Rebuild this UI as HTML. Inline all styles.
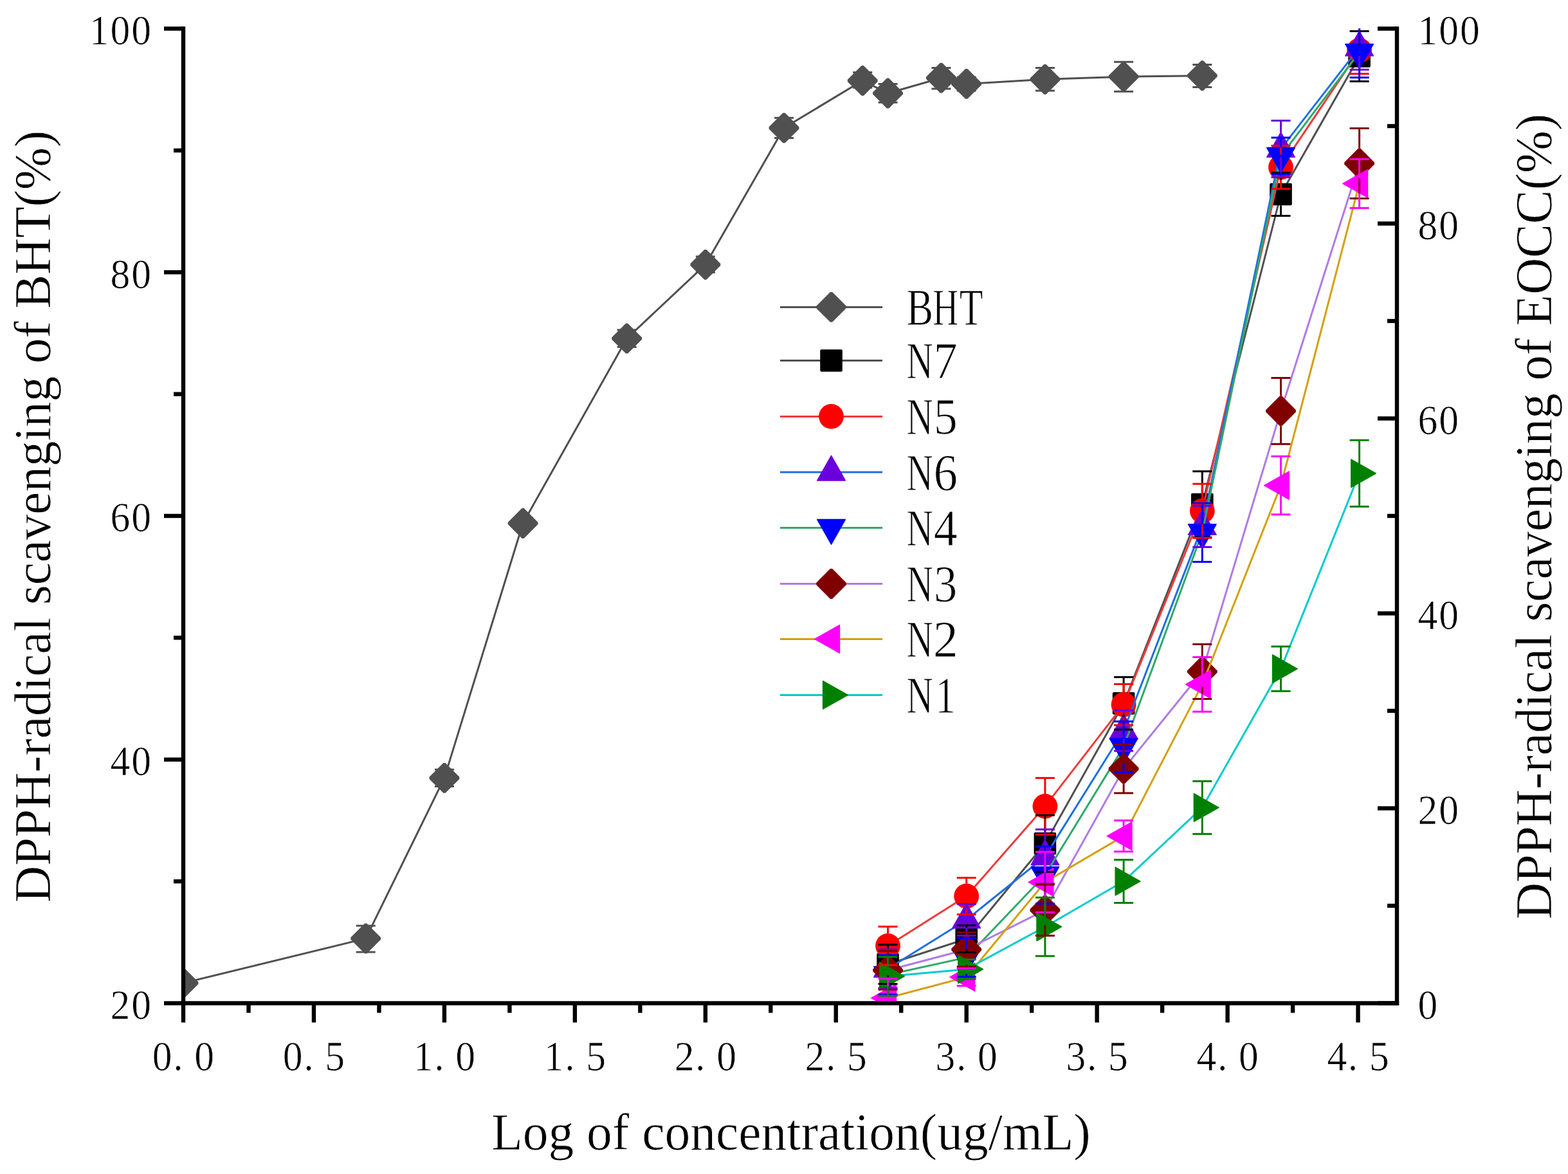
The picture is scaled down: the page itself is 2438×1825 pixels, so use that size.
<!DOCTYPE html>
<html><head><meta charset="utf-8"><title>DPPH chart</title>
<style>html,body{margin:0;padding:0;background:#fff;}svg{display:block;}</style>
</head><body>
<svg width="2438" height="1825" viewBox="0 0 2438 1825">
<rect width="2438" height="1825" fill="#fff"/>
<defs><clipPath id="pc"><rect x="285.0" y="44.5" width="1887.0" height="1515.0"/></clipPath></defs>
<g clip-path="url(#pc)">
<polyline points="285.0,1528.2 568.7,1458.9 690.9,1209.4 813.1,813.5 974.6,526.2 1096.8,411.4 1219.0,198.8 1341.2,125.3 1380.5,145.0 1463.4,121.2 1502.7,130.4 1624.9,123.3 1747.1,119.2 1869.3,117.7" fill="none" stroke="#505050" stroke-width="3" stroke-linejoin="round"/>
<polygon points="283.4,1504.8 286.6,1504.8 308.4,1526.6 308.4,1529.8 286.6,1551.6 283.4,1551.6 261.6,1529.8 261.6,1526.6" fill="#505050"/>
<polygon points="567.1,1435.5 570.3,1435.5 592.1,1457.3 592.1,1460.5 570.3,1482.3 567.1,1482.3 545.3,1460.5 545.3,1457.3" fill="#505050"/>
<polygon points="689.3,1186.0 692.5,1186.0 714.3,1207.8 714.3,1211.0 692.5,1232.8 689.3,1232.8 667.5,1211.0 667.5,1207.8" fill="#505050"/>
<polygon points="811.5,790.1 814.7,790.1 836.5,811.9 836.5,815.1 814.7,836.9 811.5,836.9 789.7,815.1 789.7,811.9" fill="#505050"/>
<polygon points="973.0,502.8 976.2,502.8 998.0,524.6 998.0,527.8 976.2,549.6 973.0,549.6 951.2,527.8 951.2,524.6" fill="#505050"/>
<polygon points="1095.2,388.0 1098.4,388.0 1120.2,409.8 1120.2,413.0 1098.4,434.8 1095.2,434.8 1073.4,413.0 1073.4,409.8" fill="#505050"/>
<polygon points="1217.4,175.4 1220.6,175.4 1242.4,197.2 1242.4,200.4 1220.6,222.2 1217.4,222.2 1195.6,200.4 1195.6,197.2" fill="#505050"/>
<polygon points="1339.6,101.9 1342.8,101.9 1364.6,123.7 1364.6,126.9 1342.8,148.7 1339.6,148.7 1317.8,126.9 1317.8,123.7" fill="#505050"/>
<polygon points="1378.9,121.6 1382.1,121.6 1403.9,143.4 1403.9,146.6 1382.1,168.4 1378.9,168.4 1357.1,146.6 1357.1,143.4" fill="#505050"/>
<polygon points="1461.8,97.8 1465.0,97.8 1486.8,119.6 1486.8,122.8 1465.0,144.6 1461.8,144.6 1440.0,122.8 1440.0,119.6" fill="#505050"/>
<polygon points="1501.1,107.0 1504.3,107.0 1526.1,128.8 1526.1,132.0 1504.3,153.8 1501.1,153.8 1479.3,132.0 1479.3,128.8" fill="#505050"/>
<polygon points="1623.3,99.9 1626.5,99.9 1648.3,121.7 1648.3,124.9 1626.5,146.7 1623.3,146.7 1601.5,124.9 1601.5,121.7" fill="#505050"/>
<polygon points="1745.5,95.8 1748.7,95.8 1770.5,117.6 1770.5,120.8 1748.7,142.6 1745.5,142.6 1723.7,120.8 1723.7,117.6" fill="#505050"/>
<polygon points="1867.7,94.3 1870.9,94.3 1892.7,116.1 1892.7,119.3 1870.9,141.1 1867.7,141.1 1845.9,119.3 1845.9,116.1" fill="#505050"/>
<line x1="553.7" y1="1439.1" x2="583.7" y2="1439.1" stroke="#505050" stroke-width="3.0"/>
<line x1="553.7" y1="1480.0" x2="583.7" y2="1480.0" stroke="#505050" stroke-width="3.0"/>
<line x1="675.9" y1="1196.3" x2="705.9" y2="1196.3" stroke="#505050" stroke-width="3.0"/>
<line x1="675.9" y1="1222.5" x2="705.9" y2="1222.5" stroke="#505050" stroke-width="3.0"/>
<line x1="798.1" y1="805.0" x2="828.1" y2="805.0" stroke="#505050" stroke-width="3.0"/>
<line x1="798.1" y1="822.0" x2="828.1" y2="822.0" stroke="#505050" stroke-width="3.0"/>
<line x1="959.6" y1="512.9" x2="989.6" y2="512.9" stroke="#505050" stroke-width="3.0"/>
<line x1="959.6" y1="539.4" x2="989.6" y2="539.4" stroke="#505050" stroke-width="3.0"/>
<line x1="1081.8" y1="398.8" x2="1111.8" y2="398.8" stroke="#505050" stroke-width="3.0"/>
<line x1="1081.8" y1="423.5" x2="1111.8" y2="423.5" stroke="#505050" stroke-width="3.0"/>
<line x1="1204.0" y1="183.2" x2="1234.0" y2="183.2" stroke="#505050" stroke-width="3.0"/>
<line x1="1204.0" y1="214.4" x2="1234.0" y2="214.4" stroke="#505050" stroke-width="3.0"/>
<line x1="1326.2" y1="112.6" x2="1356.2" y2="112.6" stroke="#505050" stroke-width="3.0"/>
<line x1="1326.2" y1="136.3" x2="1356.2" y2="136.3" stroke="#505050" stroke-width="3.0"/>
<line x1="1365.5" y1="130.5" x2="1395.5" y2="130.5" stroke="#505050" stroke-width="3.0"/>
<line x1="1365.5" y1="159.3" x2="1395.5" y2="159.3" stroke="#505050" stroke-width="3.0"/>
<line x1="1448.4" y1="105.4" x2="1478.4" y2="105.4" stroke="#505050" stroke-width="3.0"/>
<line x1="1448.4" y1="138.0" x2="1478.4" y2="138.0" stroke="#505050" stroke-width="3.0"/>
<line x1="1487.7" y1="120.0" x2="1517.7" y2="120.0" stroke="#505050" stroke-width="3.0"/>
<line x1="1487.7" y1="141.0" x2="1517.7" y2="141.0" stroke="#505050" stroke-width="3.0"/>
<line x1="1609.9" y1="105.4" x2="1639.9" y2="105.4" stroke="#505050" stroke-width="3.0"/>
<line x1="1609.9" y1="140.9" x2="1639.9" y2="140.9" stroke="#505050" stroke-width="3.0"/>
<line x1="1732.1" y1="96.3" x2="1762.1" y2="96.3" stroke="#505050" stroke-width="3.0"/>
<line x1="1732.1" y1="142.3" x2="1762.1" y2="142.3" stroke="#505050" stroke-width="3.0"/>
<line x1="1854.3" y1="100.4" x2="1884.3" y2="100.4" stroke="#505050" stroke-width="3.0"/>
<line x1="1854.3" y1="135.4" x2="1884.3" y2="135.4" stroke="#505050" stroke-width="3.0"/>
<polyline points="1380.5,1499.0 1502.7,1459.5 1624.9,1311.3 1747.1,1093.4 1869.3,784.0 1991.5,302.0 2113.6,87.5" fill="none" stroke="#505050" stroke-width="3" stroke-linejoin="round"/>
<rect x="1363.2" y="1481.7" width="34.6" height="34.6" rx="2" fill="#000000"/>
<rect x="1485.4" y="1442.2" width="34.6" height="34.6" rx="2" fill="#000000"/>
<rect x="1607.6" y="1294.0" width="34.6" height="34.6" rx="2" fill="#000000"/>
<rect x="1729.8" y="1076.1" width="34.6" height="34.6" rx="2" fill="#000000"/>
<rect x="1852.0" y="766.7" width="34.6" height="34.6" rx="2" fill="#000000"/>
<rect x="1974.2" y="284.7" width="34.6" height="34.6" rx="2" fill="#000000"/>
<rect x="2096.3" y="70.2" width="34.6" height="34.6" rx="2" fill="#000000"/>
<polyline points="1380.5,1470.3 1502.7,1393.0 1624.9,1253.4 1747.1,1095.4 1869.3,794.2 1991.5,260.0 2113.6,78.3" fill="none" stroke="#EE3B3B" stroke-width="3" stroke-linejoin="round"/>
<circle cx="1380.5" cy="1470.3" r="19.4" fill="#FF0000"/>
<circle cx="1502.7" cy="1393.0" r="19.4" fill="#FF0000"/>
<circle cx="1624.9" cy="1253.4" r="19.4" fill="#FF0000"/>
<circle cx="1747.1" cy="1095.4" r="19.4" fill="#FF0000"/>
<circle cx="1869.3" cy="794.2" r="19.4" fill="#FF0000"/>
<circle cx="1991.5" cy="260.0" r="19.4" fill="#FF0000"/>
<circle cx="2113.6" cy="78.3" r="19.4" fill="#FF0000"/>
<polyline points="1380.5,1506.0 1502.7,1429.9 1624.9,1331.6 1747.1,1135.8 1869.3,818.4 1991.5,231.4 2113.6,73.9" fill="none" stroke="#1C6FE3" stroke-width="3" stroke-linejoin="round"/>
<polygon points="1380.5,1480.3 1402.3,1518.9 1358.7,1518.9" fill="#6A00DC" stroke="#6A00DC" stroke-width="1.5" stroke-linejoin="round"/>
<polygon points="1502.7,1404.2 1524.5,1442.8 1480.9,1442.8" fill="#6A00DC" stroke="#6A00DC" stroke-width="1.5" stroke-linejoin="round"/>
<polygon points="1624.9,1305.9 1646.7,1344.5 1603.1,1344.5" fill="#6A00DC" stroke="#6A00DC" stroke-width="1.5" stroke-linejoin="round"/>
<polygon points="1747.1,1110.1 1768.9,1148.7 1725.3,1148.7" fill="#6A00DC" stroke="#6A00DC" stroke-width="1.5" stroke-linejoin="round"/>
<polygon points="1869.3,792.7 1891.1,831.3 1847.5,831.3" fill="#6A00DC" stroke="#6A00DC" stroke-width="1.5" stroke-linejoin="round"/>
<polygon points="1991.5,205.7 2013.3,244.3 1969.7,244.3" fill="#6A00DC" stroke="#6A00DC" stroke-width="1.5" stroke-linejoin="round"/>
<polygon points="2113.6,48.2 2135.4,86.8 2091.8,86.8" fill="#6A00DC" stroke="#6A00DC" stroke-width="1.5" stroke-linejoin="round"/>
<polyline points="1380.5,1515.3 1502.7,1488.4 1624.9,1360.3 1747.1,1160.9 1869.3,827.8 1991.5,242.5 2113.6,81.4" fill="none" stroke="#2EAA6A" stroke-width="3" stroke-linejoin="round"/>
<polygon points="1380.5,1541.0 1402.3,1502.4 1358.7,1502.4" fill="#0000FF" stroke="#0000FF" stroke-width="1.5" stroke-linejoin="round"/>
<polygon points="1502.7,1514.1 1524.5,1475.5 1480.9,1475.5" fill="#0000FF" stroke="#0000FF" stroke-width="1.5" stroke-linejoin="round"/>
<polygon points="1624.9,1386.0 1646.7,1347.4 1603.1,1347.4" fill="#0000FF" stroke="#0000FF" stroke-width="1.5" stroke-linejoin="round"/>
<polygon points="1747.1,1186.6 1768.9,1148.0 1725.3,1148.0" fill="#0000FF" stroke="#0000FF" stroke-width="1.5" stroke-linejoin="round"/>
<polygon points="1869.3,853.5 1891.1,814.9 1847.5,814.9" fill="#0000FF" stroke="#0000FF" stroke-width="1.5" stroke-linejoin="round"/>
<polygon points="1991.5,268.2 2013.3,229.6 1969.7,229.6" fill="#0000FF" stroke="#0000FF" stroke-width="1.5" stroke-linejoin="round"/>
<polygon points="2113.6,107.1 2135.4,68.5 2091.8,68.5" fill="#0000FF" stroke="#0000FF" stroke-width="1.5" stroke-linejoin="round"/>
<polyline points="1380.5,1508.3 1502.7,1476.0 1624.9,1414.8 1747.1,1195.1 1869.3,1044.0 1991.5,638.9 2113.6,254.0" fill="none" stroke="#B07AE6" stroke-width="3" stroke-linejoin="round"/>
<polygon points="1378.9,1484.9 1382.1,1484.9 1403.9,1506.7 1403.9,1509.9 1382.1,1531.7 1378.9,1531.7 1357.1,1509.9 1357.1,1506.7" fill="#800000"/>
<polygon points="1501.1,1452.6 1504.3,1452.6 1526.1,1474.4 1526.1,1477.6 1504.3,1499.4 1501.1,1499.4 1479.3,1477.6 1479.3,1474.4" fill="#800000"/>
<polygon points="1623.3,1391.4 1626.5,1391.4 1648.3,1413.2 1648.3,1416.4 1626.5,1438.2 1623.3,1438.2 1601.5,1416.4 1601.5,1413.2" fill="#800000"/>
<polygon points="1745.5,1171.7 1748.7,1171.7 1770.5,1193.5 1770.5,1196.7 1748.7,1218.5 1745.5,1218.5 1723.7,1196.7 1723.7,1193.5" fill="#800000"/>
<polygon points="1867.7,1020.6 1870.9,1020.6 1892.7,1042.4 1892.7,1045.6 1870.9,1067.4 1867.7,1067.4 1845.9,1045.6 1845.9,1042.4" fill="#800000"/>
<polygon points="1989.9,615.5 1993.1,615.5 2014.9,637.3 2014.9,640.5 1993.1,662.3 1989.9,662.3 1968.1,640.5 1968.1,637.3" fill="#800000"/>
<polygon points="2112.0,230.6 2115.2,230.6 2137.0,252.4 2137.0,255.6 2115.2,277.4 2112.0,277.4 2090.2,255.6 2090.2,252.4" fill="#800000"/>
<polyline points="1380.5,1551.3 1502.7,1518.9 1624.9,1371.3 1747.1,1299.6 1869.3,1063.9 1991.5,754.6 2113.6,285.4" fill="none" stroke="#D4A00C" stroke-width="3" stroke-linejoin="round"/>
<polygon points="1354.8,1551.3 1393.4,1529.5 1393.4,1573.1" fill="#FF00FF" stroke="#FF00FF" stroke-width="1.5" stroke-linejoin="round"/>
<polygon points="1477.0,1518.9 1515.6,1497.1 1515.6,1540.7" fill="#FF00FF" stroke="#FF00FF" stroke-width="1.5" stroke-linejoin="round"/>
<polygon points="1599.2,1371.3 1637.8,1349.5 1637.8,1393.1" fill="#FF00FF" stroke="#FF00FF" stroke-width="1.5" stroke-linejoin="round"/>
<polygon points="1721.3,1299.6 1759.9,1277.8 1759.9,1321.4" fill="#FF00FF" stroke="#FF00FF" stroke-width="1.5" stroke-linejoin="round"/>
<polygon points="1843.5,1063.9 1882.1,1042.1 1882.1,1085.7" fill="#FF00FF" stroke="#FF00FF" stroke-width="1.5" stroke-linejoin="round"/>
<polygon points="1965.7,754.6 2004.3,732.8 2004.3,776.4" fill="#FF00FF" stroke="#FF00FF" stroke-width="1.5" stroke-linejoin="round"/>
<polygon points="2087.9,285.4 2126.5,263.6 2126.5,307.2" fill="#FF00FF" stroke="#FF00FF" stroke-width="1.5" stroke-linejoin="round"/>
<polyline points="1380.5,1517.7 1502.7,1506.7 1624.9,1440.7 1747.1,1370.0 1869.3,1255.4 1991.5,1039.7 2113.6,735.9" fill="none" stroke="#00CCCC" stroke-width="3" stroke-linejoin="round"/>
<polygon points="1406.2,1517.7 1367.6,1495.9 1367.6,1539.5" fill="#008000" stroke="#008000" stroke-width="1.5" stroke-linejoin="round"/>
<polygon points="1528.4,1506.7 1489.8,1484.9 1489.8,1528.5" fill="#008000" stroke="#008000" stroke-width="1.5" stroke-linejoin="round"/>
<polygon points="1650.6,1440.7 1612.0,1418.9 1612.0,1462.5" fill="#008000" stroke="#008000" stroke-width="1.5" stroke-linejoin="round"/>
<polygon points="1772.8,1370.0 1734.2,1348.2 1734.2,1391.8" fill="#008000" stroke="#008000" stroke-width="1.5" stroke-linejoin="round"/>
<polygon points="1895.0,1255.4 1856.4,1233.6 1856.4,1277.2" fill="#008000" stroke="#008000" stroke-width="1.5" stroke-linejoin="round"/>
<polygon points="2017.2,1039.7 1978.6,1017.9 1978.6,1061.5" fill="#008000" stroke="#008000" stroke-width="1.5" stroke-linejoin="round"/>
<polygon points="2139.4,735.9 2100.8,714.1 2100.8,757.7" fill="#008000" stroke="#008000" stroke-width="1.5" stroke-linejoin="round"/>
<line x1="1365.5" y1="1468.5" x2="1395.5" y2="1468.5" stroke="#000000" stroke-width="3.0"/>
<line x1="1365.5" y1="1529.5" x2="1395.5" y2="1529.5" stroke="#000000" stroke-width="3.0"/>
<line x1="1380.5" y1="1468.5" x2="1380.5" y2="1481.7" stroke="#000000" stroke-width="3.0"/>
<line x1="1380.5" y1="1516.3" x2="1380.5" y2="1529.5" stroke="#000000" stroke-width="3.0"/>
<line x1="1487.7" y1="1438.5" x2="1517.7" y2="1438.5" stroke="#000000" stroke-width="3.0"/>
<line x1="1487.7" y1="1480.5" x2="1517.7" y2="1480.5" stroke="#000000" stroke-width="3.0"/>
<line x1="1502.7" y1="1438.5" x2="1502.7" y2="1442.2" stroke="#000000" stroke-width="3.0"/>
<line x1="1502.7" y1="1476.8" x2="1502.7" y2="1480.5" stroke="#000000" stroke-width="3.0"/>
<line x1="1609.9" y1="1267.3" x2="1639.9" y2="1267.3" stroke="#000000" stroke-width="3.0"/>
<line x1="1609.9" y1="1355.3" x2="1639.9" y2="1355.3" stroke="#000000" stroke-width="3.0"/>
<line x1="1624.9" y1="1267.3" x2="1624.9" y2="1294.0" stroke="#000000" stroke-width="3.0"/>
<line x1="1624.9" y1="1328.6" x2="1624.9" y2="1355.3" stroke="#000000" stroke-width="3.0"/>
<line x1="1732.1" y1="1052.6" x2="1762.1" y2="1052.6" stroke="#000000" stroke-width="3.0"/>
<line x1="1732.1" y1="1134.2" x2="1762.1" y2="1134.2" stroke="#000000" stroke-width="3.0"/>
<line x1="1747.1" y1="1052.6" x2="1747.1" y2="1076.1" stroke="#000000" stroke-width="3.0"/>
<line x1="1747.1" y1="1110.7" x2="1747.1" y2="1134.2" stroke="#000000" stroke-width="3.0"/>
<line x1="1854.3" y1="732.7" x2="1884.3" y2="732.7" stroke="#000000" stroke-width="3.0"/>
<line x1="1854.3" y1="835.3" x2="1884.3" y2="835.3" stroke="#000000" stroke-width="3.0"/>
<line x1="1869.3" y1="732.7" x2="1869.3" y2="766.7" stroke="#000000" stroke-width="3.0"/>
<line x1="1869.3" y1="801.3" x2="1869.3" y2="835.3" stroke="#000000" stroke-width="3.0"/>
<line x1="1976.5" y1="268.5" x2="2006.5" y2="268.5" stroke="#000000" stroke-width="3.0"/>
<line x1="1976.5" y1="335.5" x2="2006.5" y2="335.5" stroke="#000000" stroke-width="3.0"/>
<line x1="1991.5" y1="268.5" x2="1991.5" y2="284.7" stroke="#000000" stroke-width="3.0"/>
<line x1="1991.5" y1="319.3" x2="1991.5" y2="335.5" stroke="#000000" stroke-width="3.0"/>
<line x1="2098.6" y1="48.5" x2="2128.6" y2="48.5" stroke="#000000" stroke-width="3.0"/>
<line x1="2098.6" y1="126.5" x2="2128.6" y2="126.5" stroke="#000000" stroke-width="3.0"/>
<line x1="2113.6" y1="48.5" x2="2113.6" y2="70.2" stroke="#000000" stroke-width="3.0"/>
<line x1="2113.6" y1="104.8" x2="2113.6" y2="126.5" stroke="#000000" stroke-width="3.0"/>
<line x1="1365.5" y1="1440.4" x2="1395.5" y2="1440.4" stroke="#FF0000" stroke-width="3.0"/>
<line x1="1365.5" y1="1500.2" x2="1395.5" y2="1500.2" stroke="#FF0000" stroke-width="3.0"/>
<line x1="1380.5" y1="1440.4" x2="1380.5" y2="1450.9" stroke="#FF0000" stroke-width="3.0"/>
<line x1="1380.5" y1="1489.7" x2="1380.5" y2="1500.2" stroke="#FF0000" stroke-width="3.0"/>
<line x1="1487.7" y1="1364.5" x2="1517.7" y2="1364.5" stroke="#FF0000" stroke-width="3.0"/>
<line x1="1487.7" y1="1421.5" x2="1517.7" y2="1421.5" stroke="#FF0000" stroke-width="3.0"/>
<line x1="1502.7" y1="1364.5" x2="1502.7" y2="1373.6" stroke="#FF0000" stroke-width="3.0"/>
<line x1="1502.7" y1="1412.4" x2="1502.7" y2="1421.5" stroke="#FF0000" stroke-width="3.0"/>
<line x1="1609.9" y1="1209.4" x2="1639.9" y2="1209.4" stroke="#FF0000" stroke-width="3.0"/>
<line x1="1609.9" y1="1297.4" x2="1639.9" y2="1297.4" stroke="#FF0000" stroke-width="3.0"/>
<line x1="1624.9" y1="1209.4" x2="1624.9" y2="1234.0" stroke="#FF0000" stroke-width="3.0"/>
<line x1="1624.9" y1="1272.8" x2="1624.9" y2="1297.4" stroke="#FF0000" stroke-width="3.0"/>
<line x1="1732.1" y1="1063.5" x2="1762.1" y2="1063.5" stroke="#FF0000" stroke-width="3.0"/>
<line x1="1732.1" y1="1127.3" x2="1762.1" y2="1127.3" stroke="#FF0000" stroke-width="3.0"/>
<line x1="1747.1" y1="1063.5" x2="1747.1" y2="1076.0" stroke="#FF0000" stroke-width="3.0"/>
<line x1="1747.1" y1="1114.8" x2="1747.1" y2="1127.3" stroke="#FF0000" stroke-width="3.0"/>
<line x1="1854.3" y1="752.2" x2="1884.3" y2="752.2" stroke="#FF0000" stroke-width="3.0"/>
<line x1="1854.3" y1="836.2" x2="1884.3" y2="836.2" stroke="#FF0000" stroke-width="3.0"/>
<line x1="1869.3" y1="752.2" x2="1869.3" y2="774.8" stroke="#FF0000" stroke-width="3.0"/>
<line x1="1869.3" y1="813.6" x2="1869.3" y2="836.2" stroke="#FF0000" stroke-width="3.0"/>
<line x1="1976.5" y1="226.5" x2="2006.5" y2="226.5" stroke="#FF0000" stroke-width="3.0"/>
<line x1="1976.5" y1="293.5" x2="2006.5" y2="293.5" stroke="#FF0000" stroke-width="3.0"/>
<line x1="1991.5" y1="226.5" x2="1991.5" y2="240.6" stroke="#FF0000" stroke-width="3.0"/>
<line x1="1991.5" y1="279.4" x2="1991.5" y2="293.5" stroke="#FF0000" stroke-width="3.0"/>
<line x1="2098.6" y1="41.8" x2="2128.6" y2="41.8" stroke="#FF0000" stroke-width="3.0"/>
<line x1="2098.6" y1="114.8" x2="2128.6" y2="114.8" stroke="#FF0000" stroke-width="3.0"/>
<line x1="2113.6" y1="41.8" x2="2113.6" y2="58.9" stroke="#FF0000" stroke-width="3.0"/>
<line x1="2113.6" y1="97.7" x2="2113.6" y2="114.8" stroke="#FF0000" stroke-width="3.0"/>
<line x1="1365.5" y1="1475.9" x2="1395.5" y2="1475.9" stroke="#6A00DC" stroke-width="3.0"/>
<line x1="1365.5" y1="1536.1" x2="1395.5" y2="1536.1" stroke="#6A00DC" stroke-width="3.0"/>
<line x1="1380.5" y1="1475.9" x2="1380.5" y2="1480.3" stroke="#6A00DC" stroke-width="3.0"/>
<line x1="1380.5" y1="1518.9" x2="1380.5" y2="1536.1" stroke="#6A00DC" stroke-width="3.0"/>
<line x1="1487.7" y1="1405.4" x2="1517.7" y2="1405.4" stroke="#6A00DC" stroke-width="3.0"/>
<line x1="1487.7" y1="1454.4" x2="1517.7" y2="1454.4" stroke="#6A00DC" stroke-width="3.0"/>
<line x1="1502.7" y1="1442.8" x2="1502.7" y2="1454.4" stroke="#6A00DC" stroke-width="3.0"/>
<line x1="1609.9" y1="1289.3" x2="1639.9" y2="1289.3" stroke="#6A00DC" stroke-width="3.0"/>
<line x1="1609.9" y1="1373.9" x2="1639.9" y2="1373.9" stroke="#6A00DC" stroke-width="3.0"/>
<line x1="1624.9" y1="1289.3" x2="1624.9" y2="1305.9" stroke="#6A00DC" stroke-width="3.0"/>
<line x1="1624.9" y1="1344.5" x2="1624.9" y2="1373.9" stroke="#6A00DC" stroke-width="3.0"/>
<line x1="1732.1" y1="1104.3" x2="1762.1" y2="1104.3" stroke="#6A00DC" stroke-width="3.0"/>
<line x1="1732.1" y1="1167.3" x2="1762.1" y2="1167.3" stroke="#6A00DC" stroke-width="3.0"/>
<line x1="1747.1" y1="1104.3" x2="1747.1" y2="1110.1" stroke="#6A00DC" stroke-width="3.0"/>
<line x1="1747.1" y1="1148.7" x2="1747.1" y2="1167.3" stroke="#6A00DC" stroke-width="3.0"/>
<line x1="1854.3" y1="786.4" x2="1884.3" y2="786.4" stroke="#6A00DC" stroke-width="3.0"/>
<line x1="1854.3" y1="850.4" x2="1884.3" y2="850.4" stroke="#6A00DC" stroke-width="3.0"/>
<line x1="1869.3" y1="786.4" x2="1869.3" y2="792.7" stroke="#6A00DC" stroke-width="3.0"/>
<line x1="1869.3" y1="831.3" x2="1869.3" y2="850.4" stroke="#6A00DC" stroke-width="3.0"/>
<line x1="1976.5" y1="187.4" x2="2006.5" y2="187.4" stroke="#6A00DC" stroke-width="3.0"/>
<line x1="1976.5" y1="275.4" x2="2006.5" y2="275.4" stroke="#6A00DC" stroke-width="3.0"/>
<line x1="1991.5" y1="187.4" x2="1991.5" y2="205.7" stroke="#6A00DC" stroke-width="3.0"/>
<line x1="1991.5" y1="244.3" x2="1991.5" y2="275.4" stroke="#6A00DC" stroke-width="3.0"/>
<line x1="2098.6" y1="39.5" x2="2128.6" y2="39.5" stroke="#6A00DC" stroke-width="3.0"/>
<line x1="2098.6" y1="108.3" x2="2128.6" y2="108.3" stroke="#6A00DC" stroke-width="3.0"/>
<line x1="2113.6" y1="39.5" x2="2113.6" y2="48.2" stroke="#6A00DC" stroke-width="3.0"/>
<line x1="2113.6" y1="86.8" x2="2113.6" y2="108.3" stroke="#6A00DC" stroke-width="3.0"/>
<line x1="1365.5" y1="1484.7" x2="1395.5" y2="1484.7" stroke="#0000FF" stroke-width="3.0"/>
<line x1="1365.5" y1="1545.9" x2="1395.5" y2="1545.9" stroke="#0000FF" stroke-width="3.0"/>
<line x1="1380.5" y1="1484.7" x2="1380.5" y2="1502.4" stroke="#0000FF" stroke-width="3.0"/>
<line x1="1380.5" y1="1541.0" x2="1380.5" y2="1545.9" stroke="#0000FF" stroke-width="3.0"/>
<line x1="1487.7" y1="1458.4" x2="1517.7" y2="1458.4" stroke="#0000FF" stroke-width="3.0"/>
<line x1="1487.7" y1="1518.4" x2="1517.7" y2="1518.4" stroke="#0000FF" stroke-width="3.0"/>
<line x1="1502.7" y1="1458.4" x2="1502.7" y2="1475.5" stroke="#0000FF" stroke-width="3.0"/>
<line x1="1502.7" y1="1514.1" x2="1502.7" y2="1518.4" stroke="#0000FF" stroke-width="3.0"/>
<line x1="1609.9" y1="1315.9" x2="1639.9" y2="1315.9" stroke="#0000FF" stroke-width="3.0"/>
<line x1="1609.9" y1="1404.7" x2="1639.9" y2="1404.7" stroke="#0000FF" stroke-width="3.0"/>
<line x1="1624.9" y1="1315.9" x2="1624.9" y2="1347.4" stroke="#0000FF" stroke-width="3.0"/>
<line x1="1624.9" y1="1386.0" x2="1624.9" y2="1404.7" stroke="#0000FF" stroke-width="3.0"/>
<line x1="1732.1" y1="1121.5" x2="1762.1" y2="1121.5" stroke="#0000FF" stroke-width="3.0"/>
<line x1="1732.1" y1="1200.3" x2="1762.1" y2="1200.3" stroke="#0000FF" stroke-width="3.0"/>
<line x1="1747.1" y1="1121.5" x2="1747.1" y2="1148.0" stroke="#0000FF" stroke-width="3.0"/>
<line x1="1747.1" y1="1186.6" x2="1747.1" y2="1200.3" stroke="#0000FF" stroke-width="3.0"/>
<line x1="1854.3" y1="782.2" x2="1884.3" y2="782.2" stroke="#0000FF" stroke-width="3.0"/>
<line x1="1854.3" y1="873.4" x2="1884.3" y2="873.4" stroke="#0000FF" stroke-width="3.0"/>
<line x1="1869.3" y1="782.2" x2="1869.3" y2="814.9" stroke="#0000FF" stroke-width="3.0"/>
<line x1="1869.3" y1="853.5" x2="1869.3" y2="873.4" stroke="#0000FF" stroke-width="3.0"/>
<line x1="1976.5" y1="214.0" x2="2006.5" y2="214.0" stroke="#0000FF" stroke-width="3.0"/>
<line x1="1976.5" y1="271.0" x2="2006.5" y2="271.0" stroke="#0000FF" stroke-width="3.0"/>
<line x1="1991.5" y1="214.0" x2="1991.5" y2="229.6" stroke="#0000FF" stroke-width="3.0"/>
<line x1="1991.5" y1="268.2" x2="1991.5" y2="271.0" stroke="#0000FF" stroke-width="3.0"/>
<line x1="2098.6" y1="42.4" x2="2128.6" y2="42.4" stroke="#0000FF" stroke-width="3.0"/>
<line x1="2098.6" y1="120.4" x2="2128.6" y2="120.4" stroke="#0000FF" stroke-width="3.0"/>
<line x1="2113.6" y1="42.4" x2="2113.6" y2="68.5" stroke="#0000FF" stroke-width="3.0"/>
<line x1="2113.6" y1="107.1" x2="2113.6" y2="120.4" stroke="#0000FF" stroke-width="3.0"/>
<line x1="1365.5" y1="1478.3" x2="1395.5" y2="1478.3" stroke="#800000" stroke-width="3.0"/>
<line x1="1365.5" y1="1538.3" x2="1395.5" y2="1538.3" stroke="#800000" stroke-width="3.0"/>
<line x1="1380.5" y1="1478.3" x2="1380.5" y2="1484.9" stroke="#800000" stroke-width="3.0"/>
<line x1="1380.5" y1="1531.7" x2="1380.5" y2="1538.3" stroke="#800000" stroke-width="3.0"/>
<line x1="1487.7" y1="1449.3" x2="1517.7" y2="1449.3" stroke="#800000" stroke-width="3.0"/>
<line x1="1487.7" y1="1502.7" x2="1517.7" y2="1502.7" stroke="#800000" stroke-width="3.0"/>
<line x1="1502.7" y1="1449.3" x2="1502.7" y2="1452.6" stroke="#800000" stroke-width="3.0"/>
<line x1="1502.7" y1="1499.4" x2="1502.7" y2="1502.7" stroke="#800000" stroke-width="3.0"/>
<line x1="1609.9" y1="1375.1" x2="1639.9" y2="1375.1" stroke="#800000" stroke-width="3.0"/>
<line x1="1609.9" y1="1454.5" x2="1639.9" y2="1454.5" stroke="#800000" stroke-width="3.0"/>
<line x1="1624.9" y1="1375.1" x2="1624.9" y2="1391.4" stroke="#800000" stroke-width="3.0"/>
<line x1="1624.9" y1="1438.2" x2="1624.9" y2="1454.5" stroke="#800000" stroke-width="3.0"/>
<line x1="1732.1" y1="1157.3" x2="1762.1" y2="1157.3" stroke="#800000" stroke-width="3.0"/>
<line x1="1732.1" y1="1232.9" x2="1762.1" y2="1232.9" stroke="#800000" stroke-width="3.0"/>
<line x1="1747.1" y1="1157.3" x2="1747.1" y2="1171.7" stroke="#800000" stroke-width="3.0"/>
<line x1="1747.1" y1="1218.5" x2="1747.1" y2="1232.9" stroke="#800000" stroke-width="3.0"/>
<line x1="1854.3" y1="1001.5" x2="1884.3" y2="1001.5" stroke="#800000" stroke-width="3.0"/>
<line x1="1854.3" y1="1086.5" x2="1884.3" y2="1086.5" stroke="#800000" stroke-width="3.0"/>
<line x1="1869.3" y1="1001.5" x2="1869.3" y2="1020.6" stroke="#800000" stroke-width="3.0"/>
<line x1="1869.3" y1="1067.4" x2="1869.3" y2="1086.5" stroke="#800000" stroke-width="3.0"/>
<line x1="1976.5" y1="587.5" x2="2006.5" y2="587.5" stroke="#800000" stroke-width="3.0"/>
<line x1="1976.5" y1="690.3" x2="2006.5" y2="690.3" stroke="#800000" stroke-width="3.0"/>
<line x1="1991.5" y1="587.5" x2="1991.5" y2="615.5" stroke="#800000" stroke-width="3.0"/>
<line x1="1991.5" y1="662.3" x2="1991.5" y2="690.3" stroke="#800000" stroke-width="3.0"/>
<line x1="2098.6" y1="199.5" x2="2128.6" y2="199.5" stroke="#800000" stroke-width="3.0"/>
<line x1="2098.6" y1="308.5" x2="2128.6" y2="308.5" stroke="#800000" stroke-width="3.0"/>
<line x1="2113.6" y1="199.5" x2="2113.6" y2="230.6" stroke="#800000" stroke-width="3.0"/>
<line x1="2113.6" y1="277.4" x2="2113.6" y2="308.5" stroke="#800000" stroke-width="3.0"/>
<line x1="1365.5" y1="1521.3" x2="1395.5" y2="1521.3" stroke="#FF00FF" stroke-width="3.0"/>
<line x1="1365.5" y1="1581.3" x2="1395.5" y2="1581.3" stroke="#FF00FF" stroke-width="3.0"/>
<line x1="1380.5" y1="1521.3" x2="1380.5" y2="1536.3" stroke="#FF00FF" stroke-width="3.0"/>
<line x1="1380.5" y1="1566.3" x2="1380.5" y2="1581.3" stroke="#FF00FF" stroke-width="3.0"/>
<line x1="1487.7" y1="1505.3" x2="1517.7" y2="1505.3" stroke="#FF00FF" stroke-width="3.0"/>
<line x1="1487.7" y1="1532.5" x2="1517.7" y2="1532.5" stroke="#FF00FF" stroke-width="3.0"/>
<line x1="1609.9" y1="1324.3" x2="1639.9" y2="1324.3" stroke="#FF00FF" stroke-width="3.0"/>
<line x1="1609.9" y1="1418.3" x2="1639.9" y2="1418.3" stroke="#FF00FF" stroke-width="3.0"/>
<line x1="1624.9" y1="1324.3" x2="1624.9" y2="1356.3" stroke="#FF00FF" stroke-width="3.0"/>
<line x1="1624.9" y1="1386.3" x2="1624.9" y2="1418.3" stroke="#FF00FF" stroke-width="3.0"/>
<line x1="1732.1" y1="1275.4" x2="1762.1" y2="1275.4" stroke="#FF00FF" stroke-width="3.0"/>
<line x1="1732.1" y1="1323.8" x2="1762.1" y2="1323.8" stroke="#FF00FF" stroke-width="3.0"/>
<line x1="1747.1" y1="1275.4" x2="1747.1" y2="1284.6" stroke="#FF00FF" stroke-width="3.0"/>
<line x1="1747.1" y1="1314.6" x2="1747.1" y2="1323.8" stroke="#FF00FF" stroke-width="3.0"/>
<line x1="1854.3" y1="1021.5" x2="1884.3" y2="1021.5" stroke="#FF00FF" stroke-width="3.0"/>
<line x1="1854.3" y1="1106.3" x2="1884.3" y2="1106.3" stroke="#FF00FF" stroke-width="3.0"/>
<line x1="1869.3" y1="1021.5" x2="1869.3" y2="1048.9" stroke="#FF00FF" stroke-width="3.0"/>
<line x1="1869.3" y1="1078.9" x2="1869.3" y2="1106.3" stroke="#FF00FF" stroke-width="3.0"/>
<line x1="1976.5" y1="709.4" x2="2006.5" y2="709.4" stroke="#FF00FF" stroke-width="3.0"/>
<line x1="1976.5" y1="799.8" x2="2006.5" y2="799.8" stroke="#FF00FF" stroke-width="3.0"/>
<line x1="1991.5" y1="709.4" x2="1991.5" y2="739.6" stroke="#FF00FF" stroke-width="3.0"/>
<line x1="1991.5" y1="769.6" x2="1991.5" y2="799.8" stroke="#FF00FF" stroke-width="3.0"/>
<line x1="2098.6" y1="247.4" x2="2128.6" y2="247.4" stroke="#FF00FF" stroke-width="3.0"/>
<line x1="2098.6" y1="323.4" x2="2128.6" y2="323.4" stroke="#FF00FF" stroke-width="3.0"/>
<line x1="2113.6" y1="247.4" x2="2113.6" y2="270.4" stroke="#FF00FF" stroke-width="3.0"/>
<line x1="2113.6" y1="300.4" x2="2113.6" y2="323.4" stroke="#FF00FF" stroke-width="3.0"/>
<line x1="1365.5" y1="1487.5" x2="1395.5" y2="1487.5" stroke="#008000" stroke-width="3.0"/>
<line x1="1365.5" y1="1547.9" x2="1395.5" y2="1547.9" stroke="#008000" stroke-width="3.0"/>
<line x1="1380.5" y1="1487.5" x2="1380.5" y2="1502.7" stroke="#008000" stroke-width="3.0"/>
<line x1="1380.5" y1="1532.7" x2="1380.5" y2="1547.9" stroke="#008000" stroke-width="3.0"/>
<line x1="1487.7" y1="1491.5" x2="1517.7" y2="1491.5" stroke="#008000" stroke-width="3.0"/>
<line x1="1487.7" y1="1521.9" x2="1517.7" y2="1521.9" stroke="#008000" stroke-width="3.0"/>
<line x1="1502.7" y1="1491.5" x2="1502.7" y2="1491.7" stroke="#008000" stroke-width="3.0"/>
<line x1="1502.7" y1="1521.7" x2="1502.7" y2="1521.9" stroke="#008000" stroke-width="3.0"/>
<line x1="1609.9" y1="1395.2" x2="1639.9" y2="1395.2" stroke="#008000" stroke-width="3.0"/>
<line x1="1609.9" y1="1486.2" x2="1639.9" y2="1486.2" stroke="#008000" stroke-width="3.0"/>
<line x1="1624.9" y1="1395.2" x2="1624.9" y2="1425.7" stroke="#008000" stroke-width="3.0"/>
<line x1="1624.9" y1="1455.7" x2="1624.9" y2="1486.2" stroke="#008000" stroke-width="3.0"/>
<line x1="1732.1" y1="1336.5" x2="1762.1" y2="1336.5" stroke="#008000" stroke-width="3.0"/>
<line x1="1732.1" y1="1403.5" x2="1762.1" y2="1403.5" stroke="#008000" stroke-width="3.0"/>
<line x1="1747.1" y1="1336.5" x2="1747.1" y2="1355.0" stroke="#008000" stroke-width="3.0"/>
<line x1="1747.1" y1="1385.0" x2="1747.1" y2="1403.5" stroke="#008000" stroke-width="3.0"/>
<line x1="1854.3" y1="1214.4" x2="1884.3" y2="1214.4" stroke="#008000" stroke-width="3.0"/>
<line x1="1854.3" y1="1296.4" x2="1884.3" y2="1296.4" stroke="#008000" stroke-width="3.0"/>
<line x1="1869.3" y1="1214.4" x2="1869.3" y2="1240.4" stroke="#008000" stroke-width="3.0"/>
<line x1="1869.3" y1="1270.4" x2="1869.3" y2="1296.4" stroke="#008000" stroke-width="3.0"/>
<line x1="1976.5" y1="1005.0" x2="2006.5" y2="1005.0" stroke="#008000" stroke-width="3.0"/>
<line x1="1976.5" y1="1074.4" x2="2006.5" y2="1074.4" stroke="#008000" stroke-width="3.0"/>
<line x1="1991.5" y1="1005.0" x2="1991.5" y2="1024.7" stroke="#008000" stroke-width="3.0"/>
<line x1="1991.5" y1="1054.7" x2="1991.5" y2="1074.4" stroke="#008000" stroke-width="3.0"/>
<line x1="2098.6" y1="684.3" x2="2128.6" y2="684.3" stroke="#008000" stroke-width="3.0"/>
<line x1="2098.6" y1="787.5" x2="2128.6" y2="787.5" stroke="#008000" stroke-width="3.0"/>
<line x1="2113.6" y1="684.3" x2="2113.6" y2="720.9" stroke="#008000" stroke-width="3.0"/>
<line x1="2113.6" y1="750.9" x2="2113.6" y2="787.5" stroke="#008000" stroke-width="3.0"/>
</g>
<g stroke="#000" stroke-width="6.4" fill="none">
<line x1="285.0" y1="41.3" x2="285.0" y2="1559.5"/>
<line x1="281.8" y1="1559.5" x2="2175.2" y2="1559.5"/>
<line x1="2172.0" y1="41.3" x2="2172.0" y2="1562.7"/>
<line x1="255.0" y1="1559.50" x2="285.0" y2="1559.50"/>
<line x1="255.0" y1="1180.75" x2="285.0" y2="1180.75"/>
<line x1="255.0" y1="802.00" x2="285.0" y2="802.00"/>
<line x1="255.0" y1="423.25" x2="285.0" y2="423.25"/>
<line x1="255.0" y1="44.50" x2="285.0" y2="44.50"/>
<line x1="270.0" y1="1370.12" x2="285.0" y2="1370.12"/>
<line x1="270.0" y1="991.38" x2="285.0" y2="991.38"/>
<line x1="270.0" y1="612.62" x2="285.0" y2="612.62"/>
<line x1="270.0" y1="233.88" x2="285.0" y2="233.88"/>
<line x1="2142.0" y1="1559.50" x2="2172.0" y2="1559.50"/>
<line x1="2142.0" y1="1256.50" x2="2172.0" y2="1256.50"/>
<line x1="2142.0" y1="953.50" x2="2172.0" y2="953.50"/>
<line x1="2142.0" y1="650.50" x2="2172.0" y2="650.50"/>
<line x1="2142.0" y1="347.50" x2="2172.0" y2="347.50"/>
<line x1="2142.0" y1="44.50" x2="2172.0" y2="44.50"/>
<line x1="2157.0" y1="1408.00" x2="2172.0" y2="1408.00"/>
<line x1="2157.0" y1="1105.00" x2="2172.0" y2="1105.00"/>
<line x1="2157.0" y1="802.00" x2="2172.0" y2="802.00"/>
<line x1="2157.0" y1="499.00" x2="2172.0" y2="499.00"/>
<line x1="2157.0" y1="196.00" x2="2172.0" y2="196.00"/>
<line x1="285.00" y1="1559.5" x2="285.00" y2="1589.5"/>
<line x1="487.95" y1="1559.5" x2="487.95" y2="1589.5"/>
<line x1="690.90" y1="1559.5" x2="690.90" y2="1589.5"/>
<line x1="893.85" y1="1559.5" x2="893.85" y2="1589.5"/>
<line x1="1096.80" y1="1559.5" x2="1096.80" y2="1589.5"/>
<line x1="1299.75" y1="1559.5" x2="1299.75" y2="1589.5"/>
<line x1="1502.70" y1="1559.5" x2="1502.70" y2="1589.5"/>
<line x1="1705.65" y1="1559.5" x2="1705.65" y2="1589.5"/>
<line x1="1908.60" y1="1559.5" x2="1908.60" y2="1589.5"/>
<line x1="2111.55" y1="1559.5" x2="2111.55" y2="1589.5"/>
<line x1="386.48" y1="1559.5" x2="386.48" y2="1574.5"/>
<line x1="589.42" y1="1559.5" x2="589.42" y2="1574.5"/>
<line x1="792.38" y1="1559.5" x2="792.38" y2="1574.5"/>
<line x1="995.32" y1="1559.5" x2="995.32" y2="1574.5"/>
<line x1="1198.28" y1="1559.5" x2="1198.28" y2="1574.5"/>
<line x1="1401.22" y1="1559.5" x2="1401.22" y2="1574.5"/>
<line x1="1604.17" y1="1559.5" x2="1604.17" y2="1574.5"/>
<line x1="1807.12" y1="1559.5" x2="1807.12" y2="1574.5"/>
<line x1="2010.07" y1="1559.5" x2="2010.07" y2="1574.5"/>
</g>
<g font-family="'Liberation Serif', 'Times New Roman', serif" fill="#000" stroke="#fff" stroke-width="0.7">
<text transform="scale(0.95,1)" x="180.48 214.96" y="1584.00" font-size="64.8">20</text>
<text transform="scale(0.95,1)" x="180.48 214.96" y="1205.25" font-size="64.8">40</text>
<text transform="scale(0.95,1)" x="180.48 214.96" y="826.50" font-size="64.8">60</text>
<text transform="scale(0.95,1)" x="180.48 214.96" y="447.75" font-size="64.8">80</text>
<text transform="scale(0.95,1)" x="146.01 180.48 214.96" y="69.00" font-size="64.8">100</text>
<text transform="scale(0.95,1)" x="2320.64" y="1584.00" font-size="64.8">0</text>
<text transform="scale(0.95,1)" x="2320.64 2355.12" y="1281.00" font-size="64.8">20</text>
<text transform="scale(0.95,1)" x="2320.64 2355.12" y="978.00" font-size="64.8">40</text>
<text transform="scale(0.95,1)" x="2320.64 2355.12" y="675.00" font-size="64.8">60</text>
<text transform="scale(0.95,1)" x="2320.64 2355.12" y="372.00" font-size="64.8">80</text>
<text transform="scale(0.95,1)" x="2320.64 2355.12 2389.59" y="69.00" font-size="64.8">100</text>
<text transform="scale(0.95,1)" x="249.33 283.48 318.27" y="1664.00" font-size="64.8">0.0</text>
<text transform="scale(0.95,1)" x="462.96 497.11 531.91" y="1664.00" font-size="64.8">0.5</text>
<text transform="scale(0.95,1)" x="676.59 710.74 745.54" y="1664.00" font-size="64.8">1.0</text>
<text transform="scale(0.95,1)" x="890.22 924.37 959.17" y="1664.00" font-size="64.8">1.5</text>
<text transform="scale(0.95,1)" x="1103.85 1138.01 1172.80" y="1664.00" font-size="64.8">2.0</text>
<text transform="scale(0.95,1)" x="1317.48 1351.64 1386.43" y="1664.00" font-size="64.8">2.5</text>
<text transform="scale(0.95,1)" x="1531.12 1565.27 1600.06" y="1664.00" font-size="64.8">3.0</text>
<text transform="scale(0.95,1)" x="1744.75 1778.90 1813.69" y="1664.00" font-size="64.8">3.5</text>
<text transform="scale(0.95,1)" x="1958.38 1992.53 2027.33" y="1664.00" font-size="64.8">4.0</text>
<text transform="scale(0.95,1)" x="2172.01 2206.16 2240.96" y="1664.00" font-size="64.8">4.5</text>
<text x="1230" y="1787" font-size="79.5" text-anchor="middle">Log of concentration(ug/mL)</text>
<text transform="translate(77.5,803) rotate(-90)" font-size="79.5" text-anchor="middle" textLength="1200.6" lengthAdjust="spacing">DPPH-radical scavenging of BHT(%)</text>
<text transform="translate(2411.5,803) rotate(-90)" font-size="79.5" text-anchor="middle" textLength="1252.7" lengthAdjust="spacing">DPPH-radical scavenging of EOCC(%)</text>
</g>
<line x1="1213" y1="477.4" x2="1372" y2="477.4" stroke="#505050" stroke-width="3"/>
<polygon points="1290.9,454.0 1294.1,454.0 1315.9,475.8 1315.9,479.0 1294.1,500.8 1290.9,500.8 1269.1,479.0 1269.1,475.8" fill="#505050"/>
<text font-family="'Liberation Serif', 'Times New Roman', serif" stroke="#fff" stroke-width="1.0" y="505.20" font-size="80.3"><tspan x="1409.44" textLength="41.51" lengthAdjust="spacingAndGlyphs">B</tspan><tspan x="1450.20" textLength="40.00" lengthAdjust="spacingAndGlyphs">H</tspan><tspan x="1491.87" textLength="36.67" lengthAdjust="spacingAndGlyphs">T</tspan></text>
<line x1="1213" y1="560.5" x2="1372" y2="560.5" stroke="#505050" stroke-width="3"/>
<rect x="1275.2" y="543.2" width="34.6" height="34.6" rx="2" fill="#000000"/>
<text font-family="'Liberation Serif', 'Times New Roman', serif" stroke="#fff" stroke-width="1.0" y="588.30" font-size="80.3"><tspan x="1409.52" textLength="41.37" lengthAdjust="spacingAndGlyphs">N</tspan><tspan x="1451.62" textLength="37.17" lengthAdjust="spacingAndGlyphs">7</tspan></text>
<line x1="1213" y1="647.4" x2="1372" y2="647.4" stroke="#EE3B3B" stroke-width="3"/>
<circle cx="1292.5" cy="647.4" r="19.4" fill="#FF0000"/>
<text font-family="'Liberation Serif', 'Times New Roman', serif" stroke="#fff" stroke-width="1.0" y="675.20" font-size="80.3"><tspan x="1409.52" textLength="41.37" lengthAdjust="spacingAndGlyphs">N</tspan><tspan x="1451.68" textLength="37.04" lengthAdjust="spacingAndGlyphs">5</tspan></text>
<line x1="1213" y1="734.0" x2="1372" y2="734.0" stroke="#1C6FE3" stroke-width="3"/>
<polygon points="1292.5,708.3 1314.3,746.9 1270.7,746.9" fill="#6A00DC" stroke="#6A00DC" stroke-width="1.5" stroke-linejoin="round"/>
<text font-family="'Liberation Serif', 'Times New Roman', serif" stroke="#fff" stroke-width="1.0" y="761.80" font-size="80.3"><tspan x="1409.52" textLength="41.37" lengthAdjust="spacingAndGlyphs">N</tspan><tspan x="1451.47" textLength="37.46" lengthAdjust="spacingAndGlyphs">6</tspan></text>
<line x1="1213" y1="820.5" x2="1372" y2="820.5" stroke="#2EAA6A" stroke-width="3"/>
<polygon points="1292.5,846.2 1314.3,807.6 1270.7,807.6" fill="#0000FF" stroke="#0000FF" stroke-width="1.5" stroke-linejoin="round"/>
<text font-family="'Liberation Serif', 'Times New Roman', serif" stroke="#fff" stroke-width="1.0" y="848.30" font-size="80.3"><tspan x="1409.52" textLength="41.37" lengthAdjust="spacingAndGlyphs">N</tspan><tspan x="1451.68" textLength="37.04" lengthAdjust="spacingAndGlyphs">4</tspan></text>
<line x1="1213" y1="907.5" x2="1372" y2="907.5" stroke="#B07AE6" stroke-width="3"/>
<polygon points="1290.9,884.1 1294.1,884.1 1315.9,905.9 1315.9,909.1 1294.1,930.9 1290.9,930.9 1269.1,909.1 1269.1,905.9" fill="#800000"/>
<text font-family="'Liberation Serif', 'Times New Roman', serif" stroke="#fff" stroke-width="1.0" y="935.30" font-size="80.3"><tspan x="1409.52" textLength="41.37" lengthAdjust="spacingAndGlyphs">N</tspan><tspan x="1452.09" textLength="36.22" lengthAdjust="spacingAndGlyphs">3</tspan></text>
<line x1="1213" y1="993.4" x2="1372" y2="993.4" stroke="#D4A00C" stroke-width="3"/>
<polygon points="1266.8,993.4 1305.4,971.6 1305.4,1015.2" fill="#FF00FF" stroke="#FF00FF" stroke-width="1.5" stroke-linejoin="round"/>
<text font-family="'Liberation Serif', 'Times New Roman', serif" stroke="#fff" stroke-width="1.0" y="1021.20" font-size="80.3"><tspan x="1409.52" textLength="41.37" lengthAdjust="spacingAndGlyphs">N</tspan><tspan x="1450.65" textLength="39.10" lengthAdjust="spacingAndGlyphs">2</tspan></text>
<line x1="1213" y1="1080.4" x2="1372" y2="1080.4" stroke="#00CCCC" stroke-width="3"/>
<polygon points="1318.2,1080.4 1279.6,1058.6 1279.6,1102.2" fill="#008000" stroke="#008000" stroke-width="1.5" stroke-linejoin="round"/>
<text font-family="'Liberation Serif', 'Times New Roman', serif" stroke="#fff" stroke-width="1.0" y="1108.20" font-size="80.3"><tspan x="1409.52" textLength="41.37" lengthAdjust="spacingAndGlyphs">N</tspan><tspan x="1454.35" textLength="31.69" lengthAdjust="spacingAndGlyphs">1</tspan></text>
</svg>
</body></html>
